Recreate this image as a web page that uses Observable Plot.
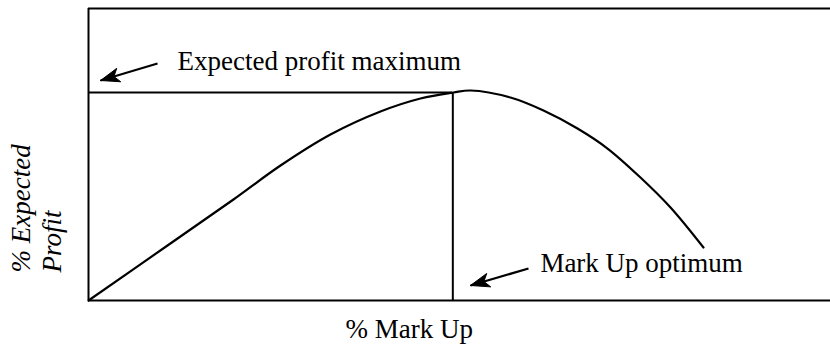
<!DOCTYPE html>
<html>
<head>
<meta charset="utf-8">
<script src="https://cdn.jsdelivr.net/npm/d3@7"></script>
<script src="https://cdn.jsdelivr.net/npm/@observablehq/plot@0.6"></script>
<style>
  html, body { margin: 0; padding: 0; background: #fff; }
</style>
</head>
<body>
<div id="chart"></div>
<script>
// Curve: % Mark Up vs % Expected Profit
const markUp =         [0, 10.65, 19.54, 25.88, 32.61, 39.35, 44.74, 49.19, 51.48, 56.87, 61.32, 65.90, 69.95, 74.39, 78.44, 82.88];
const expectedProfit = [0, 18.84, 34.59, 46.23, 56.85, 64.73, 69.18, 71.23, 71.92, 69.52, 65.07, 58.90, 52.05, 42.12, 31.85, 18.15];

// Optimum
const optimumMarkUp = 49.1;
const maximumProfit = 71.2;

// Annotations
const labelTexts = ["Expected profit maximum", "Mark Up optimum"];
const labelX = [12.0, 60.9];
const labelY = [78.8, 9.6];

// Arrows (tail -> tip)
const arrowX1 = [9.30, 59.30];
const arrowY1 = [81.16, 10.96];
const arrowX2 = [1.62, 51.48];
const arrowY2 = [75.34, 5.14];

// Axis titles
const xTitle = "% Mark Up";
const yTitle = "% Expected\nProfit";

const W = 830, H = 350, mL = 88, mR = 0, mT = 8, mB = 50;
const kx = (W - mL - mR) / 100, ky = (H - mT - mB) / 100;
const headLen = 19, headHalf = 7, headNotch = 14;

const curve = markUp.map((x, i) => ({x, y: expectedProfit[i]}));
const labels = labelTexts.map((t, i) => ({t, x: labelX[i], y: labelY[i]}));
const arrows = arrowX1.map((x1, i) => ({x1, y1: arrowY1[i], x2: arrowX2[i], y2: arrowY2[i]}));

// arrow head polygons (filled), derived from each arrow's tail and tip
const heads = [];
arrows.forEach((a, i) => {
  const dx = (a.x2 - a.x1) * kx, dy = (a.y2 - a.y1) * ky; // pixel-like, y up
  const n = Math.hypot(dx, dy), ux = dx / n, uy = dy / n, px = -uy, py = ux;
  const pt = (back, side) => ({
    id: i,
    x: a.x2 + (-ux * back + px * side) / kx,
    y: a.y2 + (-uy * back + py * side) / ky
  });
  heads.push(pt(0, 0), pt(headLen, headHalf), pt(headNotch, 0), pt(headLen, -headHalf), pt(0, 0));
});

const font = "Liberation Serif, Times New Roman, serif";

const chart = Plot.plot({
  width: W,
  height: H,
  marginLeft: mL,
  marginRight: mR,
  marginTop: mT,
  marginBottom: mB,
  x: {domain: [0, 100], axis: null},
  y: {domain: [0, 100], axis: null},
  style: {background: "#fff", color: "#000"},
  marks: [
    Plot.ruleY([0, 100], {stroke: "#000", strokeWidth: 2}),
    Plot.ruleX([0], {stroke: "#000", strokeWidth: 2}),
    Plot.ruleY([maximumProfit], {x1: 0, x2: optimumMarkUp, stroke: "#000", strokeWidth: 2}),
    Plot.ruleX([optimumMarkUp], {y1: 0, y2: maximumProfit, stroke: "#000", strokeWidth: 2}),
    Plot.line(curve, {x: "x", y: "y", curve: "catmull-rom", stroke: "#000", strokeWidth: 2.2}),
    Plot.link(arrows, {x1: "x1", y1: "y1", x2: "x2", y2: "y2", stroke: "#000", strokeWidth: 2.2}),
    Plot.line(heads, {x: "x", y: "y", z: "id", fill: "#000", stroke: "#000", strokeWidth: 1, strokeLinejoin: "miter"}),
    Plot.text(labels, {x: "x", y: "y", text: "t", textAnchor: "start", lineAnchor: "bottom", fontFamily: font, fontSize: 27, fill: "#000"}),
    Plot.text([xTitle], {x: 34.64, y: -13.0, text: d => d, textAnchor: "start", lineAnchor: "bottom", fontFamily: font, fontSize: 27, fill: "#000"}),
    Plot.text([yTitle], {x: -3.64, y: 9.59, text: d => d, rotate: -90, textAnchor: "start", lineAnchor: "bottom", lineHeight: 1.15, fontFamily: font, fontSize: 27, fontStyle: "italic", fill: "#000"})
  ]
});
document.getElementById("chart").appendChild(chart);
</script>
</body>
</html>
